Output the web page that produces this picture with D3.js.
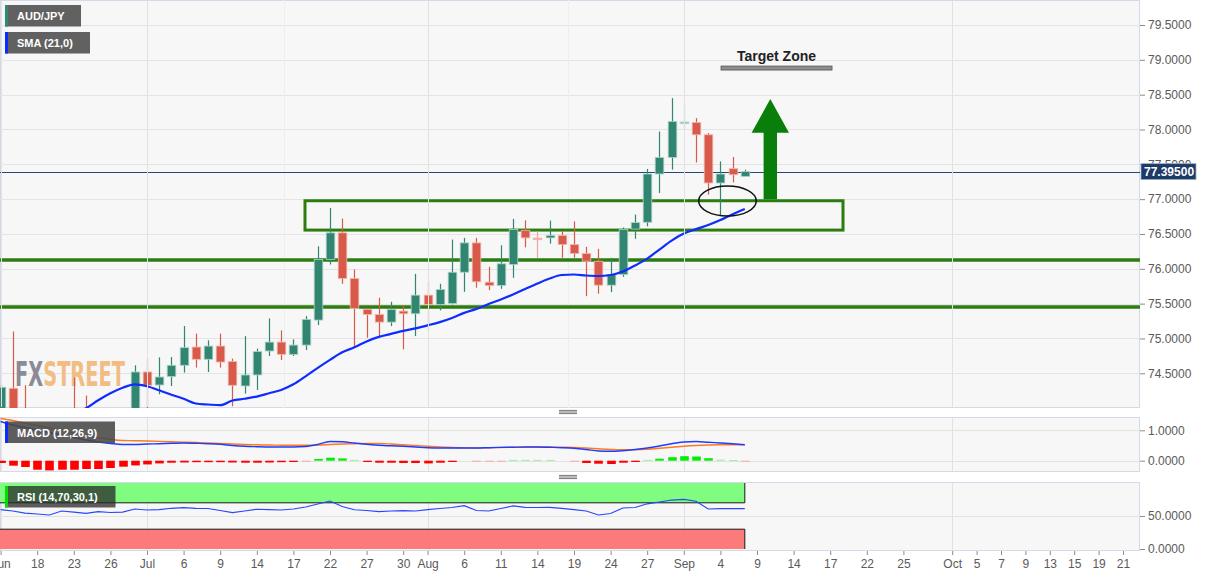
<!DOCTYPE html>
<html lang="en">
<head>
<meta charset="UTF-8">
<title>AUD/JPY</title>
<style>
  body { margin: 0; background: #fff; }
  svg { display: block; font-family: "Liberation Sans", Arial, sans-serif; }
</style>
</head>
<body>
<svg id="chart" width="1207" height="576"></svg>
<script src="https://d3js.org/d3.v7.min.js"></script>
<script>
// ---- data ----
const firstDay = '2020-06-15', lastDay = '2020-10-21';

const open  = [73.90,74.285,73.95,73.80,73.65,73.75,73.90,73.85,73.60,73.75,73.85,73.85,74.519,74.332,74.453,74.615,74.877,74.701,74.891,74.668,74.318,74.476,74.820,74.948,74.772,74.905,75.264,76.133,76.516,75.861,75.417,75.345,75.235,75.393,75.355,75.622,75.489,75.503,75.951,76.372,75.808,75.761,76.062,76.553,76.441,76.444,76.477,76.348,76.219,76.109,75.765,75.918,76.570,76.668,77.361,77.599,78.097,78.100,77.924,77.232,77.437,77.327];
const high  = [74.34,75.10,74.33,73.95,73.90,73.95,74.44,74.18,73.95,73.98,73.99,74.615,74.715,74.729,74.734,75.178,75.069,74.973,75.069,74.711,75.034,74.854,75.288,75.116,74.987,75.321,76.324,76.874,76.721,75.990,75.441,75.585,75.527,75.474,75.928,75.814,75.785,76.420,76.444,76.444,76.029,76.338,76.716,76.696,76.539,76.692,76.539,76.682,76.315,76.287,76.158,76.592,76.778,77.433,77.971,78.450,78.368,78.163,77.948,77.542,77.605,77.423];
const low   = [73.75,73.70,73.70,73.55,73.50,73.55,73.60,73.50,73.45,73.65,73.70,73.80,73.90,74.199,74.318,74.510,74.582,74.519,74.582,74.027,74.209,74.261,74.748,74.691,74.748,74.834,75.192,76.062,75.785,74.887,75.011,75.026,75.178,74.844,75.034,75.106,75.403,75.490,75.670,75.728,75.693,75.713,75.871,76.309,76.158,76.362,76.158,76.158,75.607,75.642,75.665,75.885,76.430,76.610,77.089,77.423,78.006,77.527,77.064,76.764,77.241,77.327];
const close = [74.30,73.85,73.80,73.65,73.75,73.70,73.70,73.60,73.75,73.90,73.95,74.519,74.328,74.447,74.615,74.868,74.701,74.891,74.662,74.328,74.476,74.811,74.948,74.772,74.905,75.274,76.133,76.516,75.861,75.431,75.345,75.235,75.417,75.355,75.622,75.489,75.703,75.951,76.372,75.814,75.761,76.072,76.563,76.444,76.427,76.477,76.348,76.219,76.109,75.765,75.918,76.563,76.663,77.361,77.599,78.115,78.107,77.924,77.232,77.361,77.351,77.395];

// SMA(21) as drawn, starting at candle 5
const smaStart = 5;
const sma = [73.85,73.93,73.999,74.113,74.213,74.292,74.342,74.314,74.256,74.192,74.135,74.066,74.052,74.042,74.109,74.135,74.166,74.213,74.261,74.342,74.457,74.579,74.693,74.801,74.873,74.958,75.023,75.066,75.109,75.145,75.188,75.235,75.295,75.367,75.424,75.496,75.560,75.632,75.711,75.789,75.861,75.911,75.918,75.904,75.897,75.911,75.961,76.047,76.147,76.276,76.405,76.506,76.570,76.628,76.699,76.785,76.860];

const macdLine = [1.289,1.174,1.092,1.010,0.928,0.845,0.763,0.681,0.615,0.566,0.533,0.533,0.549,0.559,0.572,0.582,0.572,0.559,0.539,0.500,0.474,0.461,0.451,0.451,0.451,0.467,0.533,0.632,0.622,0.582,0.539,0.510,0.490,0.474,0.451,0.428,0.418,0.418,0.418,0.418,0.428,0.438,0.444,0.451,0.451,0.441,0.428,0.408,0.368,0.319,0.309,0.329,0.368,0.418,0.484,0.559,0.615,0.632,0.605,0.582,0.556,0.526];
const signalLine = [1.388,1.322,1.240,1.158,1.076,0.993,0.911,0.829,0.763,0.704,0.664,0.658,0.648,0.635,0.622,0.612,0.599,0.582,0.566,0.549,0.533,0.523,0.516,0.510,0.507,0.507,0.516,0.533,0.549,0.559,0.566,0.566,0.549,0.523,0.500,0.474,0.451,0.434,0.424,0.418,0.424,0.434,0.441,0.447,0.451,0.451,0.444,0.438,0.418,0.391,0.368,0.359,0.362,0.378,0.408,0.441,0.474,0.500,0.516,0.523,0.526,0.526];
const macdHist = [-0.076,-0.164,-0.207,-0.296,-0.319,-0.296,-0.296,-0.273,-0.273,-0.240,-0.197,-0.155,-0.122,-0.089,-0.066,-0.059,-0.049,-0.049,-0.049,-0.059,-0.066,-0.066,-0.059,-0.049,-0.043,-0.033,0.056,0.099,0.076,0.026,-0.043,-0.066,-0.066,-0.076,-0.076,-0.089,-0.066,-0.043,0,-0.033,-0.033,-0.033,0.026,0.026,0.026,0.026,0,-0.033,-0.076,-0.099,-0.109,-0.066,-0.043,0.026,0.066,0.115,0.148,0.138,0.082,0.033,0.023,-0.033];

const rsi = [59.8,57.6,54.5,53.0,51.5,57.6,56.0,54.1,56.5,55.3,56.0,60.6,59.1,59.8,61.7,62.6,61.7,61.4,58.3,55.0,57.6,60.2,59.8,59.1,60.6,63.6,68.2,72.7,64.4,59.5,58.3,56.5,57.6,58.0,57.6,59.8,61.4,62.9,65.6,58.3,57.6,61.4,65.2,63.2,62.9,63.2,61.7,59.8,57.6,51.5,53.8,62.1,62.9,68.5,71.2,74.2,75.3,72.3,60.6,61.1,61.1,61.1];

const priceTicks = [74.5,75,75.5,76,76.5,77,77.5,78,78.5,79,79.5];
const macdTicks = [0,1];
const rsiTicks = [0,50];
const tickDates = ['2020-06-15','2020-06-18','2020-06-23','2020-06-26','2020-07-01','2020-07-06','2020-07-09','2020-07-14','2020-07-17','2020-07-22','2020-07-27','2020-07-30','2020-08-03','2020-08-06','2020-08-11','2020-08-14','2020-08-19','2020-08-24','2020-08-27','2020-09-01','2020-09-04','2020-09-09','2020-09-14','2020-09-17','2020-09-22','2020-09-25','2020-10-01','2020-10-05','2020-10-07','2020-10-09','2020-10-13','2020-10-15','2020-10-19','2020-10-21'];

const lastPrice = 77.395;
const supportLevels = [76.126, 75.451];
const zoneBox = {i0: 24.95, i1: 69.05, lo: 76.556, hi: 76.977};
const circleAt = {i: 59.58, v: 76.973, ri: 2.36, rv: 0.215};
const arrowAt = {i: 63.09, from: 76.997, head: 77.953, to: 78.437};
const target = {i0: 59.05, i1: 68.15, v: 78.882, label: 'Target Zone'};
const rsiBands = [[70, 100, '#80fc80'], [0, 30, '#fb7b7b']];

// ---- trading days ----
const days = [];
for (let d = new Date(firstDay + 'T00:00:00Z'); d <= new Date(lastDay + 'T00:00:00Z'); d.setUTCDate(d.getUTCDate() + 1)) {
    const wd = d.getUTCDay();
    if (wd !== 0 && wd !== 6) days.push(d.toISOString().slice(0, 10));
}
const candles = open.map((o, i) => ({i, o, h: high[i], l: low[i], c: close[i]}));
const tickIdx = tickDates.map(d => days.indexOf(d));
const monthName = d3.utcFormat('%b'), dayNum = d3.utcFormat('%-d');
const tickText = tickDates.map((d, k) => {
    const dt = new Date(d + 'T00:00:00Z');
    const prev = k > 0 ? new Date(tickDates[k - 1] + 'T00:00:00Z') : null;
    return (!prev || prev.getUTCMonth() !== dt.getUTCMonth()) ? monthName(dt) : dayNum(dt);
});
const monthIdx = tickIdx.filter((d, k) => isNaN(+tickText[k]));

// ---- layout ----
const svg = d3.select('#chart');
const plotW = 1140;
const panels = {
    main: {top: 0, bottom: 408},
    macd: {top: 417, bottom: 472},
    rsi: {top: 482, bottom: 551}
};

const x = d3.scaleLinear().domain([0, 93]).range([0.6, 0.6 + 93 * 12.2]);
const y = d3.scaleLinear().domain([74.5, 79.5]).range([373.3, 25]);
const yM = d3.scaleLinear().domain([0, 1]).range([460.7, 430.3]);
const yR = d3.scaleLinear().domain([0, 100]).range([549, 483]);

const defs = svg.append('defs');
Object.entries(panels).forEach(([k, p]) => {
    defs.append('clipPath').attr('id', 'clip-' + k)
        .append('rect').attr('x', 0).attr('y', p.top).attr('width', plotW).attr('height', p.bottom - p.top);
    svg.append('rect')
        .attr('x', 0.5).attr('y', p.top + 0.5)
        .attr('width', plotW - 1).attr('height', p.bottom - p.top - 1)
        .attr('fill', '#f7f7f7').attr('stroke', '#d5d9e8');
});

// panel separators
[412, 477].forEach(cy => {
    [-1.6, 0, 1.6].forEach(o => {
        svg.append('line').attr('x1', 559).attr('x2', 577).attr('y1', cy + o).attr('y2', cy + o)
            .attr('stroke', '#777').attr('stroke-width', 1);
    });
});

// grid
const main = svg.append('g').attr('clip-path', 'url(#clip-main)');
main.selectAll('.hgrid').data(priceTicks).enter().append('line')
    .attr('x1', 0).attr('x2', plotW).attr('y1', d => Math.round(y(d)) + 0.5).attr('y2', d => Math.round(y(d)) + 0.5)
    .attr('stroke', '#e4e4e4');
main.selectAll('.fgrid').data([23.2, 46.5]).enter().append('line')
    .attr('x1', d => Math.round(x(d)) + 0.5).attr('x2', d => Math.round(x(d)) + 0.5)
    .attr('y1', 0).attr('y2', 408).attr('stroke', '#eeeeee');
Object.values(panels).forEach(p => {
    svg.selectAll(null).data(monthIdx).enter().append('line')
        .attr('x1', d => Math.round(x(d)) + 0.5).attr('x2', d => Math.round(x(d)) + 0.5)
        .attr('y1', p.top + 1).attr('y2', p.bottom - 1).attr('stroke', '#e2e2e2');
});
svg.selectAll('.mgrid').data(macdTicks).enter().append('line')
    .attr('x1', 0).attr('x2', plotW).attr('y1', d => Math.round(yM(d)) + 0.5).attr('y2', d => Math.round(yM(d)) + 0.5)
    .attr('stroke', '#e2e2e2');
svg.selectAll('.rgrid').data([50]).enter().append('line')
    .attr('x1', 0).attr('x2', plotW).attr('y1', d => Math.round(yR(d)) + 0.5).attr('y2', d => Math.round(yR(d)) + 0.5)
    .attr('stroke', '#e2e2e2');

// watermark
const wm = main.append('text').attr('x', 15).attr('y', 386)
    .attr('font-family', "'Liberation Sans Narrow', 'DejaVu Sans Condensed', sans-serif")
    .attr('font-weight', 'bold').attr('font-size', 34)
    .attr('textLength', 110).attr('lengthAdjust', 'spacingAndGlyphs');
wm.append('tspan').attr('fill', '#8b8b97').text('FX');
wm.append('tspan').attr('fill', '#f1bd82').text('STREET');

// support lines and zone
main.selectAll('.support').data(supportLevels).enter().append('line')
    .attr('x1', 0).attr('x2', plotW).attr('y1', d => y(d)).attr('y2', d => y(d))
    .attr('stroke', '#2d7c10').attr('stroke-width', 3.5);
main.append('rect')
    .attr('x', x(zoneBox.i0)).attr('y', y(zoneBox.hi))
    .attr('width', x(zoneBox.i1) - x(zoneBox.i0)).attr('height', y(zoneBox.lo) - y(zoneBox.hi))
    .attr('fill', 'none').attr('stroke', '#2d7c10').attr('stroke-width', 3);

// last price line
main.append('line').attr('x1', 0).attr('x2', plotW)
    .attr('y1', Math.round(y(lastPrice)) + 0.5).attr('y2', Math.round(y(lastPrice)) + 0.5)
    .attr('stroke', '#2a4674').attr('stroke-width', 1);

// candles
const upC = '#328571', dnC = '#d85a4b', upL = '#93c6b8', dnL = '#eba69d';
const flat = d => Math.abs(d.c - d.o) < 0.015;
const col = d => d.c >= d.o ? (flat(d) ? upL : upC) : (flat(d) ? dnL : dnC);
const cg = main.append('g');
cg.selectAll('.wick').data(candles).enter().append('line')
    .attr('x1', d => Math.round(x(d.i)) + 0.5).attr('x2', d => Math.round(x(d.i)) + 0.5)
    .attr('y1', d => y(d.h)).attr('y2', d => y(d.l))
    .attr('stroke', col).attr('stroke-width', 1.2);
cg.selectAll('.body').data(candles).enter().append('rect')
    .attr('x', d => Math.round(x(d.i)) - 3.8).attr('width', 8.6)
    .attr('y', d => y(Math.max(d.o, d.c)))
    .attr('height', d => Math.max(1.6, Math.abs(y(d.o) - y(d.c))))
    .attr('fill', col)
    .attr('stroke', d => d.c >= d.o ? '#a9d4c8' : '#f3b5ac').attr('stroke-width', 0.8);

// SMA
main.append('path').datum(sma)
    .attr('fill', 'none').attr('stroke', '#0f2cff').attr('stroke-width', 2.2)
    .attr('d', d3.line().x((d, k) => x(k + smaStart)).y(d => y(d)).curve(d3.curveMonotoneX));

// annotations
main.append('ellipse')
    .attr('cx', x(circleAt.i)).attr('cy', y(circleAt.v))
    .attr('rx', x(circleAt.ri) - x(0)).attr('ry', y(circleAt.v - circleAt.rv) - y(circleAt.v))
    .attr('fill', 'none').attr('stroke', '#111').attr('stroke-width', 1.5);

const ax = x(arrowAt.i), shaftHalf = 6.7, headHalf = 18.7;
main.append('path')
    .attr('d', d3.line()([
        [ax - shaftHalf, y(arrowAt.from)], [ax - shaftHalf, y(arrowAt.head)], [ax - headHalf, y(arrowAt.head)],
        [ax, y(arrowAt.to)], [ax + headHalf, y(arrowAt.head)], [ax + shaftHalf, y(arrowAt.head)],
        [ax + shaftHalf, y(arrowAt.from)]
    ]) + 'Z')
    .attr('fill', '#0a7e0a');

main.append('rect')
    .attr('x', x(target.i0)).attr('y', y(target.v) - 2)
    .attr('width', x(target.i1) - x(target.i0)).attr('height', 4)
    .attr('fill', '#8d8d8d').attr('stroke', '#555').attr('stroke-width', 0.8);
main.append('text')
    .attr('x', (x(target.i0) + x(target.i1)) / 2).attr('y', y(target.v) - 7)
    .attr('text-anchor', 'middle').attr('font-size', 14).attr('font-weight', 'bold').attr('fill', '#222')
    .text(target.label);

// MACD panel
const mg = svg.append('g').attr('clip-path', 'url(#clip-macd)');
const histCol = v => v < 0 ? (-v < 0.038 ? '#f6a7a7' : '#ff0000') : (v < 0.038 ? '#94f094' : '#00ee00');
mg.selectAll('.hist').data(macdHist).enter().append('rect')
    .attr('x', (d, k) => Math.round(x(k)) - 3.8).attr('width', 8.6)
    .attr('y', d => Math.min(yM(0), yM(d)))
    .attr('height', d => Math.max(0.9, Math.abs(yM(d) - yM(0))))
    .attr('fill', histCol)
    .attr('opacity', d => d === 0 ? 0 : 1);
mg.append('path').datum(signalLine)
    .attr('fill', 'none').attr('stroke', '#ff7a1a').attr('stroke-width', 1.4)
    .attr('d', d3.line().x((d, k) => x(k)).y(d => yM(d)).curve(d3.curveMonotoneX));
mg.append('path').datum(macdLine)
    .attr('fill', 'none').attr('stroke', '#1f3cff').attr('stroke-width', 1.4)
    .attr('d', d3.line().x((d, k) => x(k)).y(d => yM(d)).curve(d3.curveMonotoneX));

// RSI panel
const rg = svg.append('g').attr('clip-path', 'url(#clip-rsi)');
const bandRight = x(rsi.length - 1);
rsiBands.forEach(([lo, hi, fill]) => {
    rg.append('rect').attr('x', 0).attr('y', yR(hi)).attr('width', bandRight).attr('height', yR(lo) - yR(hi))
        .attr('fill', fill);
    const edge = lo === 0 ? yR(hi) : yR(lo);
    rg.append('path')
        .attr('d', `M0,${edge}H${bandRight}V${lo === 0 ? yR(lo) : yR(hi)}`)
        .attr('fill', 'none').attr('stroke', '#1a1a1a').attr('stroke-width', 1);
});
rg.append('path').datum(rsi)
    .attr('fill', 'none').attr('stroke', '#2846ff').attr('stroke-width', 1.2)
    .attr('d', d3.line().x((d, k) => x(k)).y(d => yR(d)));

// legends
function legend(top, w, strip, label, fill) {
    svg.append('rect').attr('x', 5).attr('y', top).attr('width', w).attr('height', 21.5).attr('fill', fill);
    svg.append('rect').attr('x', 5).attr('y', top).attr('width', 3).attr('height', 21.5).attr('fill', strip);
    svg.append('text').attr('x', 17).attr('y', top + 15).attr('font-size', 11).attr('font-weight', 'bold')
        .attr('fill', '#fff').text(label);
}
legend(5, 76, '#2f8a70', 'AUD/JPY', '#616161');
legend(32, 85, '#0a2cff', 'SMA (21,0)', '#616161');
legend(421.5, 110, '#0a2cff', 'MACD (12,26,9)', 'rgba(72,72,72,0.88)');
legend(486, 110.5, '#00e000', 'RSI (14,70,30,1)', 'rgba(40,40,40,0.75)');

// axes
function styleAxis(g) {
    g.select('.domain').remove();
    g.selectAll('.tick line').attr('stroke', '#8a8a8a');
    g.selectAll('.tick text').attr('fill', '#5a5a5a').attr('font-size', 12)
        .attr('font-family', '"Liberation Sans", Arial, sans-serif');
}
const fmt = d3.format('.4f');
svg.append('g').attr('transform', `translate(${plotW},0)`)
    .call(d3.axisRight(y).tickValues(priceTicks).tickSize(5).tickPadding(3).tickFormat(fmt)).call(styleAxis);
svg.append('g').attr('transform', `translate(${plotW},0)`)
    .call(d3.axisRight(yM).tickValues(macdTicks).tickSize(5).tickPadding(3).tickFormat(fmt)).call(styleAxis);
svg.append('g').attr('transform', `translate(${plotW},0)`)
    .call(d3.axisRight(yR).tickValues(rsiTicks).tickSize(5).tickPadding(3).tickFormat(fmt)).call(styleAxis);
svg.append('g').attr('transform', `translate(0,${panels.rsi.bottom})`)
    .call(d3.axisBottom(x).tickValues(tickIdx).tickSize(4).tickPadding(4).tickFormat((d, k) => tickText[k]))
    .call(styleAxis);

// last price tag
const py = y(lastPrice);
svg.append('rect').attr('x', 1141).attr('y', py - 8).attr('width', 55).attr('height', 16)
    .attr('fill', '#1e3a66').attr('stroke', '#9fb0cc').attr('stroke-width', 0.8);
svg.append('text').attr('x', 1144).attr('y', py + 4.5).attr('font-size', 12).attr('font-weight', 'bold')
    .attr('fill', '#fff').text(lastPrice.toFixed(5));
</script>
</body>
</html>
